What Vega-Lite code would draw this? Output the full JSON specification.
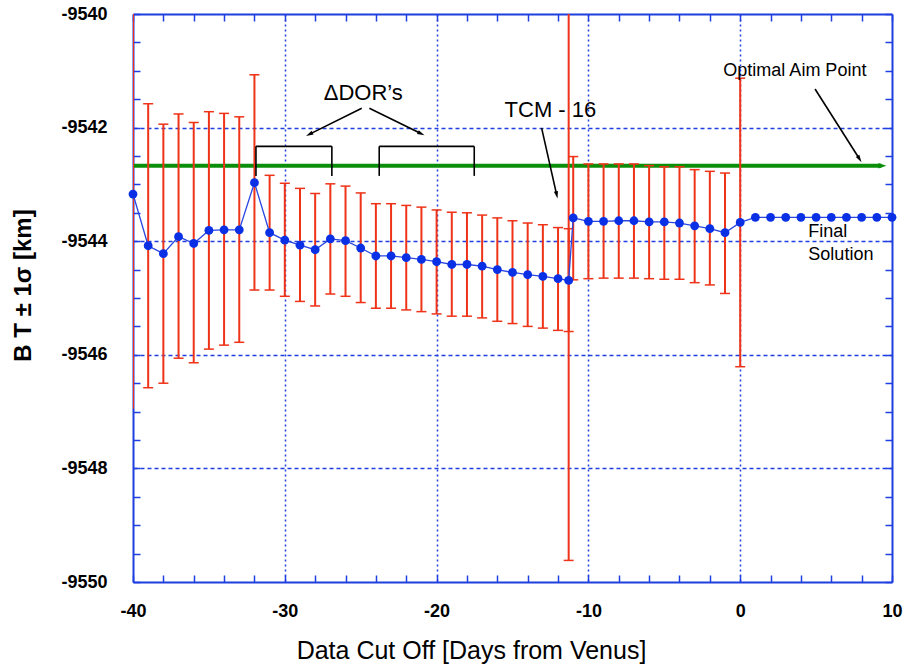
{
  "$schema": "https://vega.github.io/schema/vega-lite/v6.json",
  "width": 759,
  "height": 568,
  "autosize": {"type": "none"},
  "padding": {"left": 133, "top": 14, "right": 14, "bottom": 85},
  "background": "white",
  "config": {"view": {"stroke": null}, "font": "Liberation Sans"},
  "datasets": {
    "pts": [
      {"x": -40, "bt": -9543.17}, {"x": -39, "bt": -9544.08}, {"x": -38, "bt": -9544.22}, {"x": -37, "bt": -9543.92},
      {"x": -36, "bt": -9544.04}, {"x": -35, "bt": -9543.81}, {"x": -34, "bt": -9543.80}, {"x": -33, "bt": -9543.80},
      {"x": -32, "bt": -9542.97}, {"x": -31, "bt": -9543.85}, {"x": -30, "bt": -9543.98}, {"x": -29, "bt": -9544.07},
      {"x": -28, "bt": -9544.15}, {"x": -27, "bt": -9543.96}, {"x": -26, "bt": -9543.99}, {"x": -25, "bt": -9544.12},
      {"x": -24, "bt": -9544.26}, {"x": -23, "bt": -9544.26}, {"x": -22, "bt": -9544.29}, {"x": -21, "bt": -9544.32},
      {"x": -20, "bt": -9544.36}, {"x": -19, "bt": -9544.41}, {"x": -18, "bt": -9544.41}, {"x": -17, "bt": -9544.44},
      {"x": -16, "bt": -9544.50}, {"x": -15, "bt": -9544.55}, {"x": -14, "bt": -9544.59}, {"x": -13, "bt": -9544.62},
      {"x": -12, "bt": -9544.66}, {"x": -11.3, "bt": -9544.69}, {"x": -11, "bt": -9543.59}, {"x": -10, "bt": -9543.65},
      {"x": -9, "bt": -9543.65}, {"x": -8, "bt": -9543.64}, {"x": -7, "bt": -9543.64}, {"x": -6, "bt": -9543.66},
      {"x": -5, "bt": -9543.66}, {"x": -4, "bt": -9543.68}, {"x": -3, "bt": -9543.73}, {"x": -2, "bt": -9543.78},
      {"x": -1, "bt": -9543.85}, {"x": 0, "bt": -9543.67}, {"x": 1, "bt": -9543.58}, {"x": 2, "bt": -9543.58},
      {"x": 3, "bt": -9543.58}, {"x": 4, "bt": -9543.58}, {"x": 5, "bt": -9543.58}, {"x": 6, "bt": -9543.58},
      {"x": 7, "bt": -9543.58}, {"x": 8, "bt": -9543.58}, {"x": 9, "bt": -9543.58}, {"x": 10, "bt": -9543.58}
    ],
    "err": [
      {"x": -40, "lo": -9546.95, "hi": -9539.39},
      {"x": -39, "lo": -9546.58, "hi": -9541.58}, {"x": -38, "lo": -9546.50, "hi": -9541.94},
      {"x": -37, "lo": -9546.06, "hi": -9541.76}, {"x": -36, "lo": -9546.14, "hi": -9541.91},
      {"x": -35, "lo": -9545.90, "hi": -9541.72}, {"x": -34, "lo": -9545.83, "hi": -9541.75},
      {"x": -33, "lo": -9545.78, "hi": -9541.81}, {"x": -32, "lo": -9544.86, "hi": -9541.07},
      {"x": -31, "lo": -9544.86, "hi": -9542.84}, {"x": -30, "lo": -9544.97, "hi": -9542.98},
      {"x": -29, "lo": -9545.06, "hi": -9543.07}, {"x": -28, "lo": -9545.14, "hi": -9543.16},
      {"x": -27, "lo": -9544.93, "hi": -9542.99}, {"x": -26, "lo": -9544.97, "hi": -9543.03},
      {"x": -25, "lo": -9545.08, "hi": -9543.15}, {"x": -24, "lo": -9545.18, "hi": -9543.34},
      {"x": -23, "lo": -9545.18, "hi": -9543.34}, {"x": -22, "lo": -9545.21, "hi": -9543.37},
      {"x": -21, "lo": -9545.24, "hi": -9543.40}, {"x": -20, "lo": -9545.28, "hi": -9543.45},
      {"x": -19, "lo": -9545.32, "hi": -9543.49}, {"x": -18, "lo": -9545.32, "hi": -9543.50},
      {"x": -17, "lo": -9545.35, "hi": -9543.54}, {"x": -16, "lo": -9545.41, "hi": -9543.59},
      {"x": -15, "lo": -9545.45, "hi": -9543.64}, {"x": -14, "lo": -9545.50, "hi": -9543.68},
      {"x": -13, "lo": -9545.53, "hi": -9543.71}, {"x": -12, "lo": -9545.57, "hi": -9543.76},
      {"x": -11.3, "lo": -9545.59, "hi": -9543.78}, {"x": -11.3, "lo": -9549.62, "hi": -9539.78},
      {"x": -11, "lo": -9544.68, "hi": -9542.51}, {"x": -10, "lo": -9544.66, "hi": -9542.64},
      {"x": -9, "lo": -9544.65, "hi": -9542.64}, {"x": -8, "lo": -9544.65, "hi": -9542.64},
      {"x": -7, "lo": -9544.65, "hi": -9542.64}, {"x": -6, "lo": -9544.66, "hi": -9542.67},
      {"x": -5, "lo": -9544.67, "hi": -9542.69}, {"x": -4, "lo": -9544.67, "hi": -9542.69},
      {"x": -3, "lo": -9544.73, "hi": -9542.74}, {"x": -2, "lo": -9544.77, "hi": -9542.77},
      {"x": -1, "lo": -9544.92, "hi": -9542.80}, {"x": 0, "lo": -9546.21, "hi": -9541.13}
    ],
    "segs": [
      {"x": -31.9, "y": -9542.33, "x2": -26.9, "y2": -9542.33},
      {"x": -31.9, "y": -9542.33, "x2": -31.9, "y2": -9542.85},
      {"x": -26.9, "y": -9542.33, "x2": -26.9, "y2": -9542.85},
      {"x": -23.78, "y": -9542.33, "x2": -17.52, "y2": -9542.33},
      {"x": -23.78, "y": -9542.33, "x2": -23.78, "y2": -9542.85},
      {"x": -17.52, "y": -9542.33, "x2": -17.52, "y2": -9542.85},
      {"x": -24.93, "y": -9541.66, "x2": -28.33, "y2": -9542.11},
      {"x": -24.43, "y": -9541.66, "x2": -21.07, "y2": -9542.10},
      {"x": -13.08, "y": -9542.01, "x2": -12.10, "y2": -9543.17},
      {"x": 4.93, "y": -9541.32, "x2": 7.83, "y2": -9542.54}
    ],
    "bigtext": [
      {"x": -24.83, "y": -9541.513, "t": "ΔDOR’s"},
      {"x": -12.5, "y": -9541.807, "t": "TCM - 16"}
    ],
    "smalltext": [
      {"x": -1.11, "y": -9541.10, "t": "Optimal Aim Point"},
      {"x": 4.49, "y": -9543.93, "t": "Final"},
      {"x": 4.49, "y": -9544.33, "t": "Solution"}
    ]
  },
  "layer": [
    {
      "data": {"name": "pts"},
      "mark": {"type": "point", "opacity": 0},
      "encoding": {
        "x": {
          "field": "x", "type": "quantitative",
          "scale": {"domain": [-40, 10], "nice": false, "zero": false},
          "axis": {
            "orient": "bottom",
            "values": [-40, -38, -36, -34, -32, -30, -28, -26, -24, -22, -20, -18, -16, -14, -12, -10, -8, -6, -4, -2, 0, 2, 4, 6, 8, 10],
            "labelExpr": "datum.value % 10 === 0 ? '' + datum.value : ''",
            "labelFont": "Liberation Sans", "labelFontSize": 18, "labelFontWeight": "bold", "labelColor": "black",
            "labelPadding": 27, "labelFlush": false, "labelOverlap": false,
            "tickSize": -7, "tickColor": "#1f3fe0", "tickWidth": 1.5,
            "domainColor": "#1f3fe0", "domainWidth": 2,
            "grid": true, "gridColor": "#1f3fe0", "gridWidth": 1.5, "gridDash": [2, 3],
            "gridOpacity": {"condition": {"test": "datum.value % 10 === 0 && datum.value > -40 && datum.value < 10", "value": 1}, "value": 0},
            "title": "Data Cut Off [Days from Venus]",
            "titleFont": "Liberation Sans", "titleFontSize": 25, "titleFontWeight": "normal", "titleColor": "black",
            "titleX": 338, "titleY": 76, "titleBaseline": "alphabetic", "titleAlign": "center"
          }
        },
        "y": {
          "field": "bt", "type": "quantitative",
          "scale": {"domain": [-9550, -9540], "nice": false, "zero": false},
          "axis": {
            "orient": "left",
            "values": [-9550, -9549.5, -9549, -9548.5, -9548, -9547.5, -9547, -9546.5, -9546, -9545.5, -9545, -9544.5, -9544, -9543.5, -9543, -9542.5, -9542, -9541.5, -9541, -9540.5, -9540],
            "labelExpr": "datum.value % 2 === 0 ? '' + datum.value : ''",
            "labelFont": "Liberation Sans", "labelFontSize": 18, "labelFontWeight": "bold", "labelColor": "black",
            "labelPadding": 33, "labelFlush": false, "labelOverlap": false,
            "tickSize": -7, "tickColor": "#1f3fe0", "tickWidth": 1.5,
            "domainColor": "#1f3fe0", "domainWidth": 2,
            "grid": true, "gridColor": "#1f3fe0", "gridWidth": 1.5, "gridDash": [4, 3],
            "gridOpacity": {"condition": {"test": "datum.value % 2 === 0 && datum.value > -9550 && datum.value < -9540", "value": 1}, "value": 0},
            "title": "B T ± 1σ [km]",
            "titleFont": "Liberation Sans", "titleFontSize": 24, "titleFontWeight": "bold", "titleColor": "black",
            "titleX": -103, "titleY": 271, "titleAngle": -90, "titleAlign": "center", "titleBaseline": "alphabetic"
          }
        }
      }
    },
    {
      "data": {"name": "pts"},
      "mark": {"type": "point", "opacity": 0},
      "encoding": {
        "x": {
          "field": "x", "type": "quantitative",
          "scale": {"domain": [-40, 10], "nice": false, "zero": false},
          "axis": {
            "orient": "top", "title": null, "labels": false, "grid": false,
            "values": [-40, -38, -36, -34, -32, -30, -28, -26, -24, -22, -20, -18, -16, -14, -12, -10, -8, -6, -4, -2, 0, 2, 4, 6, 8, 10],
            "tickSize": -7, "tickColor": "#1f3fe0", "tickWidth": 1.5,
            "domainColor": "#1f3fe0", "domainWidth": 2
          }
        },
        "y": {
          "field": "bt", "type": "quantitative",
          "scale": {"domain": [-9550, -9540], "nice": false, "zero": false},
          "axis": {
            "orient": "right", "title": null, "labels": false, "grid": false,
            "values": [-9550, -9549.5, -9549, -9548.5, -9548, -9547.5, -9547, -9546.5, -9546, -9545.5, -9545, -9544.5, -9544, -9543.5, -9543, -9542.5, -9542, -9541.5, -9541, -9540.5, -9540],
            "tickSize": -7, "tickColor": "#1f3fe0", "tickWidth": 1.5,
            "domainColor": "#1f3fe0", "domainWidth": 2
          }
        }
      }
    },
    {
      "data": {"values": [{"x": -40, "x2": 9.3, "y": -9542.67}]},
      "mark": {"type": "rule", "color": "#0b8f0b", "strokeWidth": 4},
      "encoding": {
        "x": {"field": "x", "type": "quantitative", "scale": {"domain": [-40, 10], "nice": false, "zero": false}, "axis": null},
        "x2": {"field": "x2"},
        "y": {"field": "y", "type": "quantitative", "scale": {"domain": [-9550, -9540], "nice": false, "zero": false}, "axis": null}
      }
    },
    {
      "data": {"values": [{"x": 9.3, "y": -9542.67}]},
      "mark": {"type": "point", "shape": "M1,0L-0.6,-0.55L-0.6,0.55Z", "filled": true, "size": 100, "color": "#0b8f0b", "opacity": 1},
      "encoding": {
        "x": {"field": "x", "type": "quantitative", "scale": {"domain": [-40, 10], "nice": false, "zero": false}, "axis": null},
        "y": {"field": "y", "type": "quantitative", "scale": {"domain": [-9550, -9540], "nice": false, "zero": false}, "axis": null}
      }
    },
    {
      "data": {"name": "err"},
      "mark": {"type": "rule", "color": "#ee3318", "strokeWidth": 2, "clip": true},
      "encoding": {
        "x": {"field": "x", "type": "quantitative", "scale": {"domain": [-40, 10], "nice": false, "zero": false}, "axis": null},
        "y": {"field": "lo", "type": "quantitative", "scale": {"domain": [-9550, -9540], "nice": false, "zero": false}, "axis": null},
        "y2": {"field": "hi"}
      }
    },
    {
      "data": {"name": "err"},
      "transform": [{"filter": "datum.x > -40"}],
      "mark": {"type": "tick", "orient": "horizontal", "size": 10, "thickness": 1.5, "color": "#ee3318", "opacity": 1, "clip": true},
      "encoding": {
        "x": {"field": "x", "type": "quantitative", "scale": {"domain": [-40, 10], "nice": false, "zero": false}, "axis": null},
        "y": {"field": "lo", "type": "quantitative", "scale": {"domain": [-9550, -9540], "nice": false, "zero": false}, "axis": null}
      }
    },
    {
      "data": {"name": "err"},
      "transform": [{"filter": "datum.x > -40"}],
      "mark": {"type": "tick", "orient": "horizontal", "size": 10, "thickness": 1.5, "color": "#ee3318", "opacity": 1, "clip": true},
      "encoding": {
        "x": {"field": "x", "type": "quantitative", "scale": {"domain": [-40, 10], "nice": false, "zero": false}, "axis": null},
        "y": {"field": "hi", "type": "quantitative", "scale": {"domain": [-9550, -9540], "nice": false, "zero": false}, "axis": null}
      }
    },
    {
      "data": {"name": "pts"},
      "mark": {"type": "line", "color": "#2a46e0", "strokeWidth": 1.3},
      "encoding": {
        "x": {"field": "x", "type": "quantitative", "scale": {"domain": [-40, 10], "nice": false, "zero": false}, "axis": null},
        "y": {"field": "bt", "type": "quantitative", "scale": {"domain": [-9550, -9540], "nice": false, "zero": false}, "axis": null}
      }
    },
    {
      "data": {"name": "pts"},
      "mark": {"type": "point", "shape": "circle", "filled": true, "size": 78, "color": "#0a30e6", "opacity": 1},
      "encoding": {
        "x": {"field": "x", "type": "quantitative", "scale": {"domain": [-40, 10], "nice": false, "zero": false}, "axis": null},
        "y": {"field": "bt", "type": "quantitative", "scale": {"domain": [-9550, -9540], "nice": false, "zero": false}, "axis": null}
      }
    },
    {
      "data": {"name": "segs"},
      "mark": {"type": "rule", "color": "black", "strokeWidth": 1.6},
      "encoding": {
        "x": {"field": "x", "type": "quantitative", "scale": {"domain": [-40, 10], "nice": false, "zero": false}, "axis": null},
        "y": {"field": "y", "type": "quantitative", "scale": {"domain": [-9550, -9540], "nice": false, "zero": false}, "axis": null},
        "x2": {"field": "x2"},
        "y2": {"field": "y2"}
      }
    },
    {
      "data": {"values": [{"x": -28.33, "y": -9542.11}]},
      "mark": {"type": "point", "shape": "M0,-1L0.45,0.6L-0.45,0.6Z", "filled": true, "size": 85, "color": "black", "opacity": 1, "angle": 243.6},
      "encoding": {
        "x": {"field": "x", "type": "quantitative", "scale": {"domain": [-40, 10], "nice": false, "zero": false}, "axis": null},
        "y": {"field": "y", "type": "quantitative", "scale": {"domain": [-9550, -9540], "nice": false, "zero": false}, "axis": null}
      }
    },
    {
      "data": {"values": [{"x": -21.07, "y": -9542.10}]},
      "mark": {"type": "point", "shape": "M0,-1L0.45,0.6L-0.45,0.6Z", "filled": true, "size": 85, "color": "black", "opacity": 1, "angle": 116.1},
      "encoding": {
        "x": {"field": "x", "type": "quantitative", "scale": {"domain": [-40, 10], "nice": false, "zero": false}, "axis": null},
        "y": {"field": "y", "type": "quantitative", "scale": {"domain": [-9550, -9540], "nice": false, "zero": false}, "axis": null}
      }
    },
    {
      "data": {"values": [{"x": -12.10, "y": -9543.17}]},
      "mark": {"type": "point", "shape": "M0,-1L0.45,0.6L-0.45,0.6Z", "filled": true, "size": 85, "color": "black", "opacity": 1, "angle": 167.3},
      "encoding": {
        "x": {"field": "x", "type": "quantitative", "scale": {"domain": [-40, 10], "nice": false, "zero": false}, "axis": null},
        "y": {"field": "y", "type": "quantitative", "scale": {"domain": [-9550, -9540], "nice": false, "zero": false}, "axis": null}
      }
    },
    {
      "data": {"values": [{"x": 7.83, "y": -9542.54}]},
      "mark": {"type": "point", "shape": "M0,-1L0.45,0.6L-0.45,0.6Z", "filled": true, "size": 85, "color": "black", "opacity": 1, "angle": 147.5},
      "encoding": {
        "x": {"field": "x", "type": "quantitative", "scale": {"domain": [-40, 10], "nice": false, "zero": false}, "axis": null},
        "y": {"field": "y", "type": "quantitative", "scale": {"domain": [-9550, -9540], "nice": false, "zero": false}, "axis": null}
      }
    },
    {
      "data": {"name": "bigtext"},
      "mark": {"type": "text", "font": "Liberation Sans", "fontSize": 22, "color": "black", "align": "center", "baseline": "alphabetic"},
      "encoding": {
        "x": {"field": "x", "type": "quantitative", "scale": {"domain": [-40, 10], "nice": false, "zero": false}, "axis": null},
        "y": {"field": "y", "type": "quantitative", "scale": {"domain": [-9550, -9540], "nice": false, "zero": false}, "axis": null},
        "text": {"field": "t"}
      }
    },
    {
      "data": {"name": "smalltext"},
      "mark": {"type": "text", "font": "Liberation Sans", "fontSize": 18, "color": "black", "align": "left", "baseline": "alphabetic"},
      "encoding": {
        "x": {"field": "x", "type": "quantitative", "scale": {"domain": [-40, 10], "nice": false, "zero": false}, "axis": null},
        "y": {"field": "y", "type": "quantitative", "scale": {"domain": [-9550, -9540], "nice": false, "zero": false}, "axis": null},
        "text": {"field": "t"}
      }
    }
  ],
  "resolve": {"scale": {"x": "independent", "y": "independent"}}
}
